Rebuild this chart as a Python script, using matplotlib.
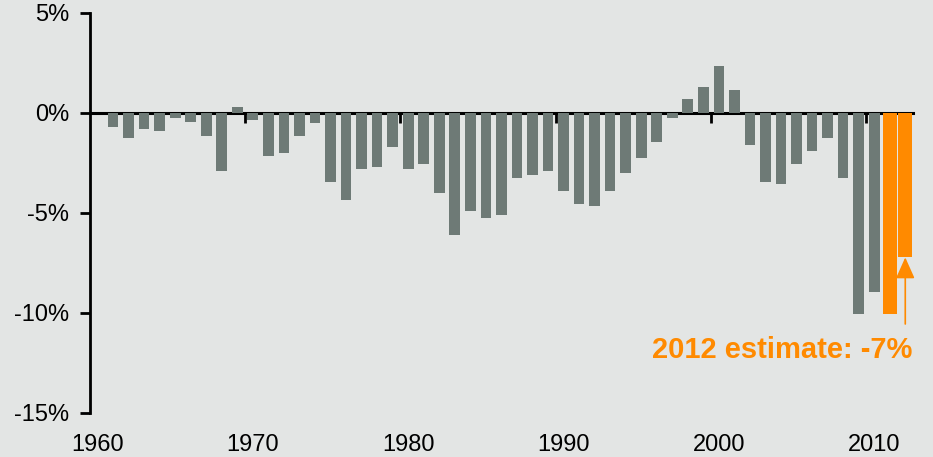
import numpy as np
import matplotlib
matplotlib.use("Agg")
import matplotlib.pyplot as plt

# Federal budget surplus / deficit, % of GDP
years = list(range(1960, 2013))
values = [0.0, -0.7, -1.23, -0.8, -0.92, -0.27, -0.47, -1.15, -2.89, 0.29,
          -0.37, -2.14, -2.0, -1.15, -0.48, -3.46, -4.34, -2.81, -2.69, -1.69,
          -2.81, -2.57, -4.01, -6.11, -4.89, -5.23, -5.11, -3.24, -3.12, -2.89,
          -3.89, -4.56, -4.66, -3.89, -3.01, -2.24, -1.47, -0.27, 0.72, 1.29,
          2.37, 1.17, -1.59, -3.46, -3.56, -2.57, -1.92, -1.23, -3.24, -10.06,
          -8.94, -10.06, -7.22]
highlight_years = [2011, 2012]
y_ticks = [-15, -10, -5, 0, 5]
y_labels = ["-15%", "-10%", "-5%", "0%", "5%"]
x_ticks = [1960, 1970, 1980, 1990, 2000, 2010]
note_text = "2012 estimate: -7%"

bg = "#E3E5E4"
gray = "#6E7A76"
orange = "#FF8A00"

plt.rcParams['font.family'] = ['Liberation Sans', 'DejaVu Sans']

fig = plt.figure(figsize=(9.33, 4.57), dpi=100, facecolor=bg)
ax = fig.add_axes([0.0962, 0.0963, 0.8824, 0.8753], facecolor=bg)

hist_x = [y for y in years if y not in highlight_years]
hist_v = [v for y, v in zip(years, values) if y not in highlight_years]
est_x = [y for y in years if y in highlight_years]
est_v = [v for y, v in zip(years, values) if y in highlight_years]

ax.bar(hist_x, hist_v, width=0.69, color=gray, zorder=2)
ax.bar(est_x, est_v, width=0.93, color=orange, zorder=2)

ax.set_xlim(years[0] - 0.5, years[-1] + 0.5)
ax.set_ylim(-15, 5)

# y axis
ax.spines['left'].set_linewidth(2)
for s in ['top', 'right', 'bottom']:
    ax.spines[s].set_visible(False)
ax.set_yticks(y_ticks)
ax.set_yticklabels(y_labels)
ax.tick_params(axis='y', length=7, width=2, direction='out', pad=8,
               labelsize=17, colors='black')

# x labels at bottom, no tick marks
ax.set_xticks(x_ticks)
ax.set_xticklabels([str(x) for x in x_ticks])
ax.tick_params(axis='x', length=0, pad=15, labelsize=17)

# zero line with decade ticks
zero_pos = (0 - (-15)) / (5 - (-15))
sec = ax.secondary_xaxis(zero_pos)
sec.set_alignment('bottom')
sec.spines['bottom'].set_linewidth(2.2)
sec.set_xticks([x - 0.5 for x in x_ticks[1:]])
sec.set_xticklabels([])
sec.tick_params(axis='x', length=7, width=2, direction='out')

# estimate annotation
ax.annotate("", xy=(2012, est_v[-1]), xytext=(2012, -10.55),
            arrowprops=dict(arrowstyle='-|>,head_length=1.3,head_width=0.58',
                            mutation_scale=10, color=orange, lw=1.2,
                            shrinkA=0, shrinkB=0))
ax.text(2012.48, -12.26, note_text, color=orange, fontsize=21,
        fontweight='bold', ha='right', va='baseline')

fig.savefig("out.png", dpi=100, facecolor=bg)
